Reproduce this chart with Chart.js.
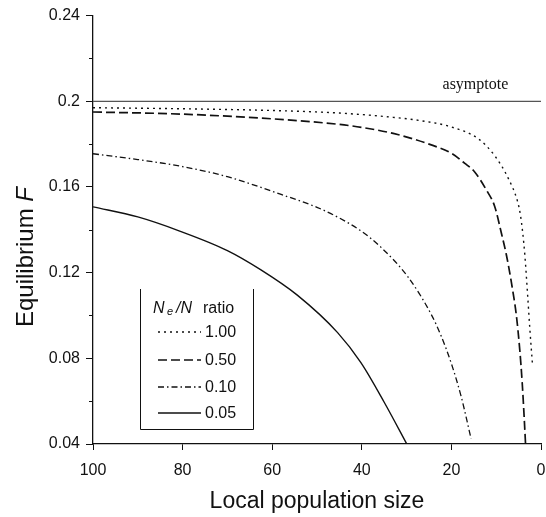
<!DOCTYPE html>
<html>
<head>
<meta charset="utf-8">
<script src="https://cdn.jsdelivr.net/npm/chart.js@4/dist/chart.umd.min.js"></script>
<style>
  html, body { margin: 0; padding: 0; background: #fff; }
  #wrap { width: 546px; height: 517px; }
</style>
</head>
<body>
<div id="wrap"><canvas id="myChart" width="546" height="517"></canvas></div>
<script>
// local population size (x) and equilibrium F (y) per Ne/N ratio
const sizes100 = [100, 80, 60, 45, 33, 27, 20, 14, 10.3, 7.3, 5.2, 4.6, 4.1, 3.6, 3.0, 2.5, 1.9];
const f100 = [0.197, 0.1965, 0.1957, 0.1945, 0.1925, 0.191, 0.188, 0.1825, 0.1745, 0.164, 0.153, 0.147, 0.139, 0.128, 0.11, 0.094, 0.077];

const sizes050 = [100, 80, 60, 45, 40, 33, 25, 20, 17, 14.8, 12.2, 10.35, 8.85, 7.7, 6.6, 5.5, 4.75, 4.2, 3.77, 3.45];
const f050 = [0.195, 0.194, 0.1918, 0.1892, 0.1878, 0.185, 0.18, 0.1757, 0.171, 0.167, 0.1586, 0.151, 0.1385, 0.128, 0.1153, 0.1, 0.0842, 0.0687, 0.053, 0.04];

const sizes010 = [100, 90, 80, 70, 58, 50, 45, 40, 35.7, 29.7, 24.5, 22.3, 20, 17.8, 15.6];
const f010 = [0.1755, 0.1728, 0.1695, 0.1648, 0.1565, 0.1505, 0.1455, 0.1392, 0.1318, 0.118, 0.1005, 0.0905, 0.0775, 0.062, 0.0424];

const sizes005 = [100, 90, 80.5, 70, 62.6, 54.4, 45.4, 40.2, 35, 29.7];
const f005 = [0.1507, 0.146, 0.1393, 0.1303, 0.1214, 0.1095, 0.092, 0.078, 0.0595, 0.039];

const asymptote = 0.2;
const ratioLabels = ["1.00", "0.50", "0.10", "0.05"];
const xTicks = [0, 20, 40, 60, 80, 100];
const yTicks = [0.04, 0.08, 0.12, 0.16, 0.2, 0.24];

const styles = [
  { dash: [2, 4], width: 1.4 },
  { dash: [9, 4], width: 1.7 },
  { dash: [6, 3, 1.5, 3], width: 1.3 },
  { dash: [], width: 1.4 },
];

const toPoints = (xs, ys) => xs.map((x, i) => ({ x: x, y: ys[i] }));
const seriesData = [
  toPoints(sizes100, f100),
  toPoints(sizes050, f050),
  toPoints(sizes010, f010),
  toPoints(sizes005, f005),
];

const datasets = seriesData.map((pts, i) => ({
  label: ratioLabels[i],
  data: pts,
  borderColor: "#111",
  borderWidth: styles[i].width,
  borderDash: styles[i].dash,
  pointRadius: 0,
  fill: false,
  cubicInterpolationMode: "monotone",
}));

datasets.unshift({
  label: "asymptote",
  data: [{ x: 0, y: asymptote }, { x: 100, y: asymptote }],
  borderColor: "#555",
  borderWidth: 1.3,
  pointRadius: 0,
  fill: false,
});

const sans = '"Liberation Sans", Arial, sans-serif';

// text, minor ticks and legend box drawn on top
const extras = {
  id: "extras",
  afterDraw(chart) {
    const c = chart.ctx;
    const x = chart.scales.x;
    const y = chart.scales.y;
    const area = chart.chartArea;
    c.save();
    c.fillStyle = "#111";
    c.strokeStyle = "#111";

    // minor y ticks halfway between labelled ones
    c.lineWidth = 1;
    for (let i = 0; i < yTicks.length - 1; i++) {
      const py = Math.round(y.getPixelForValue((yTicks[i] + yTicks[i + 1]) / 2)) + 0.5;
      c.beginPath();
      c.moveTo(area.left - 4, py);
      c.lineTo(area.left, py);
      c.stroke();
    }

    // asymptote label
    c.font = '16px "Liberation Serif", serif';
    c.textAlign = "right";
    c.textBaseline = "alphabetic";
    c.fillText("asymptote", x.getPixelForValue(7.3), y.getPixelForValue(asymptote) - 12);

    // x title
    c.font = "23px " + sans;
    c.textAlign = "center";
    c.textBaseline = "alphabetic";
    c.fillText("Local population size", 317, 508);

    // y title with italic F
    c.save();
    c.translate(33, 257);
    c.rotate(-Math.PI / 2);
    c.textBaseline = "alphabetic";
    c.textAlign = "left";
    c.font = "24px " + sans;
    const w1 = c.measureText("Equilibrium ").width;
    c.font = "italic 24px " + sans;
    const w2 = c.measureText("F").width;
    const sx = -(w1 + w2) / 2;
    c.font = "24px " + sans;
    c.fillText("Equilibrium ", sx, 0);
    c.font = "italic 24px " + sans;
    c.fillText("F", sx + w1, 0);
    c.restore();

    // legend box
    const bl = 140, br = 253, bt = 289, bb = 429;
    c.lineWidth = 1;
    c.setLineDash([]);
    c.beginPath();
    c.moveTo(bl + 0.5, bt);
    c.lineTo(bl + 0.5, bb + 0.5);
    c.lineTo(br + 0.5, bb + 0.5);
    c.lineTo(br + 0.5, bt);
    c.stroke();

    // legend title: Ne/N ratio
    c.textBaseline = "alphabetic";
    c.textAlign = "left";
    const ty = 313;
    c.font = "italic 16px " + sans;
    c.fillText("N", 153, ty);
    c.font = "italic 11px " + sans;
    c.fillText("e", 167, ty + 2);
    c.font = "italic 16px " + sans;
    c.fillText("/N", 176, ty);
    c.font = "16px " + sans;
    c.fillText("ratio", 203, ty);

    // legend rows
    const rows = [332, 360, 387, 413];
    rows.forEach((ry, i) => {
      c.lineWidth = styles[i].width;
      c.setLineDash(styles[i].dash);
      c.beginPath();
      c.moveTo(158, ry);
      c.lineTo(201, ry);
      c.stroke();
      c.setLineDash([]);
      c.font = "16px " + sans;
      c.textBaseline = "middle";
      c.fillText(ratioLabels[i], 205, ry + 1);
    });
    c.restore();
  },
};

new Chart(document.getElementById("myChart"), {
  type: "line",
  data: { datasets: datasets },
  options: {
    responsive: false,
    animation: false,
    layout: { padding: { left: 0, right: 5, top: 15, bottom: 0 } },
    plugins: { legend: { display: false }, tooltip: { enabled: false } },
    scales: {
      x: {
        type: "linear",
        reverse: true,
        min: 0,
        max: 100,
        afterBuildTicks(s) { s.ticks = xTicks.map((v) => ({ value: v })); },
        ticks: {
          color: "#111",
          font: { family: sans, size: 16 },
          padding: 11,
          maxRotation: 0,
        },
        grid: { drawOnChartArea: false, drawTicks: true, tickLength: 6, color: "#111" },
        border: { color: "#111", width: 1.3 },
        afterFit(s) { s.height = 73; },
      },
      y: {
        min: 0.04,
        max: 0.24,
        afterBuildTicks(s) { s.ticks = yTicks.map((v) => ({ value: v })); },
        ticks: {
          color: "#111",
          font: { family: sans, size: 16 },
          padding: 6,
          callback: (v) => String(Math.round(v * 100) / 100),
        },
        grid: { drawOnChartArea: false, drawTicks: true, tickLength: 7, color: "#111" },
        border: { color: "#111", width: 1.3 },
        afterFit(s) { s.width = 93; },
      },
    },
  },
  plugins: [extras],
});
</script>
</body>
</html>
